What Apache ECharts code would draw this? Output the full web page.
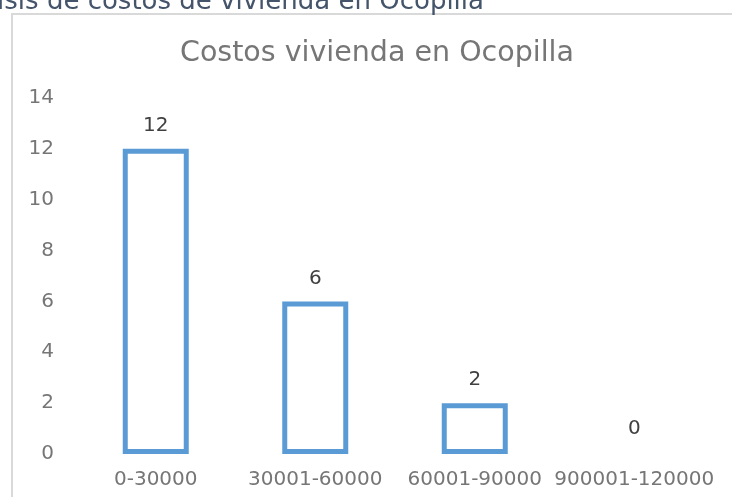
<!DOCTYPE html>
<html>
<head>
<meta charset="utf-8">
<script src="https://cdn.jsdelivr.net/npm/echarts@6/dist/echarts.min.js"></script>
<style>html,body{margin:0;padding:0;background:#fff;}#c{width:732px;height:497px;}</style>
</head>
<body>
<div id="c"></div>
<script>
const categories = ['0-30000', '30001-60000', '60001-90000', '900001-120000'];
const values = [12, 6, 2, 0];
const chartTitle = 'Costos vivienda en Ocopilla';
const pageHeading = 'Análisis de costos de vivienda en Ocopilla';
const yMin = 0, yMax = 14, yStep = 2;

const FONT = '"DejaVu Sans", "Liberation Sans", Arial, sans-serif';
const chart = echarts.init(document.getElementById('c'), null, {renderer: 'canvas'});
chart.setOption({
  backgroundColor: '#ffffff',
  animation: false,
  graphic: [
    {type: 'rect', shape: {x: 12, y: 14, width: 900, height: 700},
     style: {fill: '#ffffff', stroke: '#D9D9D9', lineWidth: 2}, z: -10, silent: true},
    {type: 'text', x: 484, y: 15,
     style: {text: pageHeading, fill: '#44546A', font: '26px ' + FONT,
             textAlign: 'right', textVerticalAlign: 'bottom'}, z: 10, silent: true}
  ],
  title: {
    text: chartTitle, left: 175, top: 34,
    textStyle: {color: '#767676', fontSize: 28.5, fontWeight: 'normal', fontFamily: FONT}
  },
  grid: {left: 76, right: 18, top: 98, bottom: 43, containLabel: false},
  xAxis: {
    type: 'category', data: categories,
    axisLine: {show: false}, axisTick: {show: false}, splitLine: {show: false},
    axisLabel: {color: '#767676', fontSize: 20, fontFamily: FONT, margin: 16, interval: 0}
  },
  yAxis: {
    type: 'value', min: yMin, max: yMax, interval: yStep,
    axisLine: {show: false}, axisTick: {show: false}, splitLine: {show: false},
    axisLabel: {color: '#767676', fontSize: 20, fontFamily: FONT, margin: 22}
  },
  series: [{
    type: 'bar', barWidth: 66, clip: false,
    data: values.map(v => ({value: v, itemStyle: {borderColor: v === 0 ? 'rgba(0,0,0,0)' : '#5B9BD5'}})),
    itemStyle: {color: 'rgba(255,255,255,0)', borderColor: '#5B9BD5', borderWidth: 5},
    label: {show: true, position: 'top', distance: 13, color: '#404040', fontSize: 20, fontFamily: FONT}
  }]
});
</script>
</body>
</html>
